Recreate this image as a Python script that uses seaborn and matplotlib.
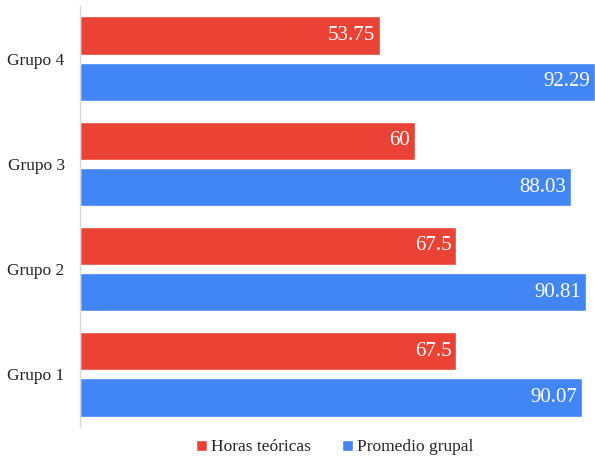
"""
Horas teóricas vs promedio grupal por grupo
"""
import numpy as np
import pandas as pd
import matplotlib
matplotlib.use('Agg')
import matplotlib.pyplot as plt
import seaborn as sns

# Data
grupos = ['Grupo 4', 'Grupo 3', 'Grupo 2', 'Grupo 1']
horas_teoricas = [53.75, 60, 67.5, 67.5]
promedio_grupal = [92.29, 88.03, 90.81, 90.07]
series = ['Horas teóricas', 'Promedio grupal']
colores = ['#EA4335', '#4285F4']

df = pd.DataFrame({
    'grupo': grupos * 2,
    'serie': [series[0]] * len(grupos) + [series[1]] * len(grupos),
    'valor': horas_teoricas + promedio_grupal,
})

sns.set_theme(style='white')
plt.rcParams['font.family'] = 'serif'
plt.rcParams['font.serif'] = ['Liberation Serif', 'Times New Roman', 'DejaVu Serif']

fig = plt.figure(figsize=(5.95, 4.59), dpi=100)
ax = fig.add_axes([80 / 595, 1 - 427 / 459, 1 - 80 / 595, 421 / 459])

sns.barplot(data=df, y='grupo', x='valor', hue='serie', order=grupos,
            hue_order=series, palette=colores, orient='h',
            width=0.88, gap=0.17, saturation=1, ax=ax)

# Value labels inside bar ends
for container in ax.containers:
    for p in container:
        w = p.get_width()
        ax.annotate(f'{w:g}', xy=(w, p.get_y() + p.get_height() / 2),
                    xytext=(-3.5, 0), textcoords='offset points',
                    ha='right', va='center', color='white', fontsize=15)

ax.set_xlim(0, 92.35)
ax.set_ylim(3.5, -0.5)
ax.set_xlabel('')
ax.set_ylabel('')
ax.set_xticks([])
ax.tick_params(axis='y', length=0, pad=11, labelsize=12.5, labelcolor='#222222')
for side in ['top', 'right', 'bottom']:
    ax.spines[side].set_visible(False)
ax.spines['left'].set_color('#d9d9d9')
ax.spines['left'].set_linewidth(1)

handles, labels = ax.get_legend_handles_labels()
ax.legend(handles, labels, loc='center', bbox_to_anchor=(0.495, -0.048),
          ncol=2, frameon=False, fontsize=12.5, handlelength=0.6,
          handleheight=0.6, handletextpad=0.25, columnspacing=1.8,
          borderaxespad=0)

plt.savefig('out.png', dpi=100)
plt.close()
